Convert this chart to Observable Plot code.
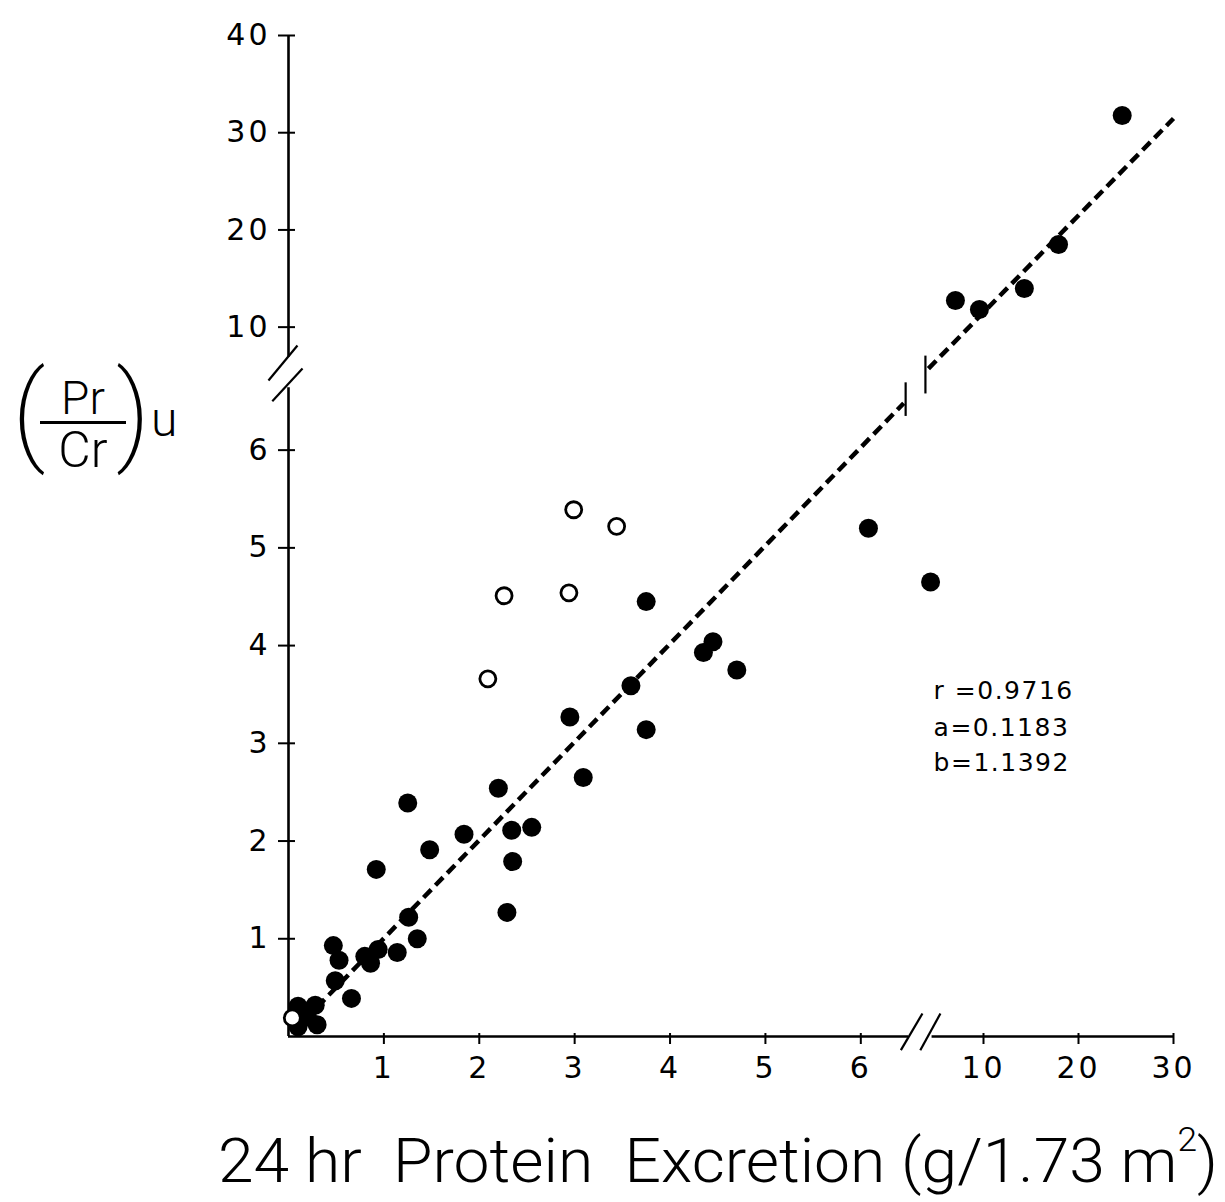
<!DOCTYPE html>
<html><head><meta charset="utf-8">
<script src="https://cdn.jsdelivr.net/npm/d3@7"></script>
<script src="https://cdn.jsdelivr.net/npm/@observablehq/plot@0.6"></script>
<style>
body{margin:0;background:#fff;}
#wrap{position:relative;width:1225px;height:1202px;overflow:hidden;}
.lab{position:absolute;font-family:Roboto,"DejaVu Sans",sans-serif;font-weight:300;color:#000;line-height:1;white-space:nowrap;}
#chart svg g[aria-label="x-axis tick label"] text,
#chart svg g[aria-label="y-axis tick label"] text{letter-spacing:3px;}
#chart svg g[aria-label="text"] text{letter-spacing:1.5px;}
</style></head><body>
<div id="wrap">
  <div id="chart"></div>
  <div class="lab" style="left:12px;top:358px;font-size:110px;font-weight:200">(</div>
  <div class="lab" style="left:116px;top:358px;font-size:110px;font-weight:200">)</div>
  <div class="lab" style="left:40px;top:376px;width:86px;text-align:center;">
    <div style="font-size:46px;line-height:44px;border-bottom:3px solid #000;padding-bottom:1px">Pr</div>
    <div style="font-size:50px;line-height:52px;">Cr</div>
  </div>
  <div class="lab" style="left:151px;top:396px;font-size:48px">u</div>
  <div class="lab" id="xlab" style="left:218px;top:1122px;font-size:62px;transform-origin:0 0">24 hr&nbsp; Protein&nbsp; Excretion&nbsp;(g/1.73 m<span style="font-size:0.55em;vertical-align:0.9em">2</span>)</div>
</div>
<script>
// filled circles [x, y]
const filledPoints = [
  [3.75,4.45],[6.08,5.20],[7.53,4.65],[4.35,3.93],[4.45,4.04],[4.70,3.75],
  [3.59,3.59],[2.95,3.27],[3.75,3.14],[3.09,2.65],[2.20,2.54],[1.25,2.39],
  [1.84,2.07],[1.48,1.91],[2.34,2.11],[2.55,2.14],[2.35,1.79],[0.92,1.71],
  [2.29,1.27],[1.26,1.22],[1.35,1.00],[1.14,0.86],[0.94,0.89],[0.86,0.75],
  [0.80,0.82],[0.47,0.93],[0.53,0.78],[0.49,0.57],[0.66,0.39],
  [0.10,0.31],[0.28,0.32],[0.30,0.12],[0.10,0.10],[0.20,0.20],
  [8.69,12.74],[9.81,11.81],[14.3,13.97],[17.9,18.5],[24.6,31.77]
];
// open circles [x, y]
const openPoints = [[2.99,5.39],[3.44,5.22],[2.26,4.51],[2.94,4.54],[2.09,3.66],[0.04,0.19]];
// regression line, drawn in two pieces around the break
const fitSegments = [
  {x1:0.05, y1:0.05, x2:6.45, y2:6.48},
  {x1:7.43, y1:7.20, x2:30, y2:31.46}
];
const fitBreakMarks = [
  {x1:6.47, y1:6.35, x2:6.47, y2:6.84},
  {x1:7.29, y1:6.58, x2:7.29, y2:7.54}
];
const xTicks = [1,2,3,4,5,6,10,20,30];
const yTicks = [1,2,3,4,5,6,10,20,30,40];
// axis line pieces
const xAxisPieces = [{x1:0, x2:6.5}, {x1:7.6, x2:30}];
const yAxisPieces = [{y1:0, y2:6.7}, {y1:7.5, y2:40}];
const axisBreakMarks = [
  {x1:-0.21, y1:6.89, x2:0.094, y2:8.11},
  {x1:-0.17, y1:6.50, x2:0.147, y2:7.20},
  {x1:6.42, y1:-0.14, x2:7.15, y2:0.235},
  {x1:7.05, y1:-0.14, x2:7.99, y2:0.235}
];
const statLines = [
  {t:"r =0.9716", y:3.54},
  {t:"a=0.1183", y:3.16},
  {t:"b=1.1392", y:2.80}
];
const statX = 7.67;

const chart = Plot.plot({
  width: 1225, height: 1202,
  marginLeft: 288, marginRight: 52, marginTop: 35, marginBottom: 166,
  style: {fontFamily: "'DejaVu Sans', sans-serif", background: "#fff", color: "#000", overflow: "visible"},
  x: {type: "linear", domain: [0, 6.5, 10, 30], range: [288, 908, 983, 1173], nice: false},
  y: {type: "linear", domain: [0, 6.6, 7.7, 40], range: [1036, 391, 349, 35], nice: false},
  marks: [
    Plot.ruleY(xAxisPieces, {y: 0, x1: "x1", x2: "x2", stroke: "#000", strokeWidth: 2.6}),
    Plot.ruleX(yAxisPieces, {x: 0, y1: "y1", y2: "y2", stroke: "#000", strokeWidth: 2.6}),
    Plot.link(axisBreakMarks, {x1: "x1", y1: "y1", x2: "x2", y2: "y2", stroke: "#000", strokeWidth: 2.2}),
    Plot.axisX(xTicks, {tickSize: 11, dy: -3, tickPadding: 12, fontSize: 30, tickFormat: d => String(d), strokeWidth: 2, label: null}),
    Plot.axisY(yTicks, {tickSize: 17, dx: 7, tickPadding: 8, fontSize: 30, tickFormat: d => String(d), strokeWidth: 2, label: null}),
    Plot.link(fitSegments, {x1: "x1", y1: "y1", x2: "x2", y2: "y2", stroke: "#000", strokeWidth: 4.5, strokeDasharray: "11,6"}),
    Plot.link(fitBreakMarks, {x1: "x1", y1: "y1", x2: "x2", y2: "y2", stroke: "#000", strokeWidth: 2.2}),
    Plot.dot(filledPoints, {x: d => d[0], y: d => d[1], r: 9.5, fill: "#000", stroke: "none"}),
    Plot.dot(openPoints, {x: d => d[0], y: d => d[1], r: 8, fill: "#fff", stroke: "#000", strokeWidth: 2.8}),
    Plot.text(statLines, {x: () => statX, y: "y", text: "t", textAnchor: "start", fontSize: 25})
  ]
});
document.getElementById("chart").appendChild(chart);
// fit the x-axis title to the width it occupies in the original
const xl = document.getElementById("xlab");
const w = xl.getBoundingClientRect().width;
xl.style.transform = `scaleX(${1000 / w})`;
</script>
</body></html>
